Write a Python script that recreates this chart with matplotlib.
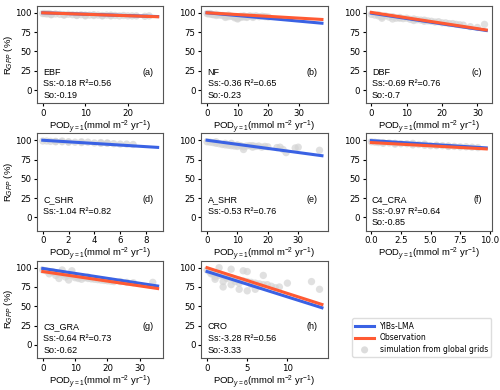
import numpy as np
import matplotlib.pyplot as plt

plt.rcParams['mathtext.fontset'] = 'custom'
plt.rcParams['mathtext.rm'] = 'Liberation Sans'
plt.rcParams['mathtext.it'] = 'Liberation Sans:italic'

# panel names, letters, x extent of fitted lines
names = ['EBF', 'NF', 'DBF', 'C_SHR', 'A_SHR', 'C4_CRA', 'C3_GRA', 'CRO']
letters = ['(a)', '(b)', '(c)', '(d)', '(e)', '(f)', '(g)', '(h)']
xmax = [27.0, 37.5, 32.5, 8.9, 37.8, 9.7, 35.5, 14.3]

# simulated (YIBs-LMA) fits: slope, intercept, R2
sim_slope = [-0.18, -0.36, -0.69, -1.04, -0.53, -0.97, -0.64, -3.28]
sim_icpt = [100.0, 100.0, 99.5, 100.0, 100.0, 99.5, 99.0, 95.0]
sim_r2 = [0.56, 0.65, 0.76, 0.82, 0.76, 0.64, 0.73, 0.56]

# observation fits (None = no observation)
obs_slope = [-0.19, -0.23, -0.70, None, None, -0.85, -0.62, -3.33]
obs_icpt = [100.0, 100.0, 100.5, None, None, 97.0, 95.0, 100.0]

xlabels = ['POD$_{y=1}$(mmol m$^{-2}$ yr$^{-1}$)'] * 7 + ['POD$_{y=6}$(mmol m$^{-2}$ yr$^{-1}$)']
xticks = [[0, 10, 20], [0, 10, 20, 30], [0, 10, 20, 30], [0, 2, 4, 6, 8],
          [0, 10, 20, 30], [0.0, 2.5, 5.0, 7.5, 10.0], [0, 10, 20, 30], [0, 5, 10]]

# grid cells from the global simulation (read off roughly)
grid_x = [
    [0, 0.5, 1, 1.5, 2, 3, 4, 5, 6, 7, 8, 9, 10, 11, 12, 13, 14, 15, 16, 17, 18, 19, 20, 21, 22, 24, 25, 8, 12, 16, 2, 5, 10, 14],
    [0, 0.5, 1, 1.5, 2, 3, 4, 5, 6, 7, 8, 9, 10, 11, 12, 13, 14, 15, 16, 17, 18, 19, 20, 6, 9, 10, 11, 13, 3, 7, 12, 15],
    [0, 1, 2, 3, 4, 5, 6, 7, 8, 9, 10, 11, 12, 13, 14, 15, 16, 17, 18, 19, 20, 21, 22, 23, 24, 25, 26, 28, 30, 32, 3, 6, 12, 2, 8, 15],
    [0, 0.3, 0.6, 1, 1.5, 2, 2.5, 3, 3.5, 4, 4.5, 5, 5.5, 6, 6.5, 7, 1.5, 3, 4.5, 1, 2, 5],
    [0, 1, 2, 3, 4, 5, 6, 7, 8, 9, 10, 11, 12, 13, 14, 15, 16, 17, 18, 19, 20, 23, 24, 25, 26, 29, 30, 37, 12, 8, 3, 6, 10, 15],
    [0, 0.3, 0.6, 1, 1.5, 2, 2.5, 3, 3.5, 4, 4.5, 5, 5.5, 6, 6.5, 7, 7.5, 8, 8.5, 9, 3.5, 4.5, 5.5, 1, 2, 6.5],
    [0, 1, 2, 3, 4, 5, 6, 7, 8, 9, 10, 11, 12, 13, 14, 15, 16, 17, 18, 19, 20, 21, 22, 24, 26, 28, 34, 5, 8, 10, 12, 14, 6, 9, 2, 4, 7, 11, 3],
    [0, 0.3, 0.6, 1, 1.5, 2, 2.5, 3, 3.5, 4, 4.5, 5, 5.5, 6, 6.5, 7, 7.5, 8, 9, 10, 13, 14, 1, 2, 3, 4, 5, 6, 1.5, 3, 4.5, 7, 2, 5,
     0.5, 1, 2.5, 3.5, 4, 5.5, 6.5, 8.5],
]
grid_y = [
    [99, 99, 98.5, 99, 98, 98.5, 98, 97.5, 98, 97.5, 97, 97.5, 97, 97, 96.5, 97, 96.5, 97, 96, 96.5, 96, 96.5, 96, 96, 96, 95.5, 96, 96.5, 97.5, 97, 97.5, 97, 96, 96],
    [99, 98.5, 99, 98, 97.5, 98, 97, 96.5, 96, 97, 95.5, 95, 93, 95.5, 96, 95, 96, 95.5, 96, 95, 95.5, 95, 94.5, 94, 93.5, 92, 94, 94, 96.5, 95, 94.5, 94],
    [98, 97, 97.5, 95, 96, 94.5, 95, 93, 94, 92.5, 93, 91.5, 92, 91, 90.5, 90.5, 89.5, 89, 88, 88.5, 87, 87, 86, 86, 85, 84.5, 84, 82, 81, 85, 93, 92, 90, 96, 93, 89],
    [99, 99, 98.5, 98.5, 98, 98, 97.5, 97, 97.5, 96.5, 96, 96, 95.5, 95, 95, 94.5, 99, 98, 97, 98, 97.5, 96.5],
    [98, 97.5, 97, 96, 95.5, 94.5, 94, 93.5, 93, 92.5, 92, 93, 91.5, 92.5, 93, 91, 92, 92.5, 91, 92, 91.5, 90.5, 91, 88, 84, 90, 91, 87, 88, 96, 98, 96, 94, 93],
    [98, 97.5, 97, 97, 96.5, 96, 95.5, 95.5, 94, 94.5, 93.5, 93, 93.5, 93, 92.5, 92, 91.5, 91.5, 91, 90.5, 96, 95, 93, 96, 95, 92],
    [97, 96, 95, 94, 93, 92, 92, 91, 90, 90, 89, 88, 88, 87, 86, 85.5, 85, 84.5, 84, 83.5, 83, 82.5, 82, 82, 81, 80.5, 81, 86, 84, 87, 85, 88, 97, 96, 92, 90, 88, 86, 95],
    [97, 95, 93, 92, 90, 89, 88, 87, 85, 84, 83, 82, 81, 80, 79, 78, 78, 76, 75, 80, 82, 72, 85, 82, 78, 72, 70, 72, 100, 98, 96, 90, 75, 95,
     92, 88, 86, 82, 80, 78, 76, 74],
]

blue = '#3a62e4'
red = '#ff5a33'
gray = '#d4d4d4'

fig, axes = plt.subplots(3, 3, figsize=(5, 3.9), dpi=100)
plt.subplots_adjust(left=0.074, right=0.984, top=0.985, bottom=0.082, wspace=0.3, hspace=0.31)
axes = axes.ravel()

for i in range(8):
    ax = axes[i]
    ax.scatter(grid_x[i], grid_y[i], s=28, color=gray, alpha=0.7, edgecolors='none', zorder=1)
    xs = np.array([0, xmax[i]])
    ax.plot(xs, sim_icpt[i] + sim_slope[i] * xs, color=blue, lw=2.2, zorder=3)
    if obs_slope[i] is not None:
        ax.plot(xs, obs_icpt[i] + obs_slope[i] * xs, color=red, lw=2.2, zorder=4)
    ax.set_ylim(-17, 109)
    ax.set_yticks([0, 25, 50, 75, 100])
    ax.set_xticks(xticks[i])
    ax.tick_params(labelsize=6.2, length=2.5, width=0.8, pad=1.5)
    for sp in ax.spines.values():
        sp.set_color('#555555')
        sp.set_linewidth(0.8)
    ax.set_xlabel(xlabels[i], fontsize=6.8, family='Liberation Sans', labelpad=0.5)
    if i % 3 == 0:
        ax.set_ylabel('R$_{GPP}$ (%)', fontsize=6.8, family='Liberation Sans', labelpad=0)
    ax.text(0.05, 0.32, names[i], transform=ax.transAxes, fontsize=6.5,
            family='Liberation Sans', va='center')
    ax.text(0.92, 0.32, letters[i], transform=ax.transAxes, fontsize=6.5,
            family='Liberation Sans', va='center', ha='right')
    ax.text(0.05, 0.20, 'Ss:%s R\u00b2=%.2f' % (repr(sim_slope[i]), sim_r2[i]), transform=ax.transAxes,
            fontsize=6.5, family='Liberation Sans', va='center')
    if obs_slope[i] is not None:
        ax.text(0.05, 0.08, 'So:%s' % repr(obs_slope[i]), transform=ax.transAxes,
                fontsize=6.5, family='Liberation Sans', va='center')

axes[8].axis('off')
h1, = axes[8].plot([], [], color=blue, lw=2.2, label='YIBs-LMA')
h2, = axes[8].plot([], [], color=red, lw=2.2, label='Observation')
h3 = axes[8].scatter([], [], s=26, color=gray, alpha=0.8, edgecolors='none',
                     label='simulation from global grids')
fig.legend(handles=[h1, h2, h3], loc='lower right', bbox_to_anchor=(0.99, 0.075),
           fontsize=5.5, frameon=True, handlelength=2.4, borderpad=0.4, labelspacing=0.35,
           framealpha=1, edgecolor='#dddddd', fancybox=True)

fig.savefig('out.png', dpi=100)
